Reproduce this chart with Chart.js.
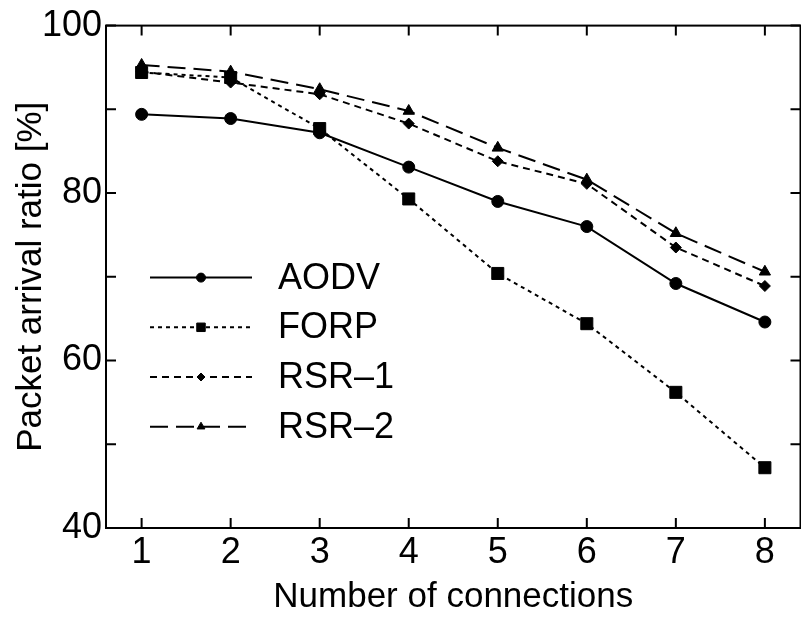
<!DOCTYPE html>
<html>
<head>
<meta charset="utf-8">
<script src="https://cdn.jsdelivr.net/npm/chart.js@4"></script>
<style>
  html, body { margin: 0; padding: 0; background: #fff; overflow: hidden; }
  #wrap { width: 801px; height: 617px; overflow: hidden; }
  canvas { display: block; }
</style>
</head>
<body>
<div id="wrap"><canvas id="chart" width="810" height="617"></canvas></div>
<script>
// data
const connections = [1, 2, 3, 4, 5, 6, 7, 8];
const aodv = [89.4, 88.9, 87.2, 83.1, 79.0, 76.0, 69.2, 64.6];
const forp = [94.4, 93.8, 87.7, 79.3, 70.4, 64.4, 56.2, 47.2];
const rsr1 = [94.5, 93.2, 91.8, 88.3, 83.8, 81.1, 73.5, 68.9];
const rsr2 = [95.3, 94.5, 92.4, 89.8, 85.4, 81.6, 75.2, 70.6];
const seriesNames = ['AODV', 'FORP', 'RSR\u20131', 'RSR\u20132'];
const yTicks = [40, 60, 80, 100];
const yMinor = [50, 70, 90];

const FONT = "'Liberation Sans', Arial, sans-serif";
const TICK = 10;

const pts = vals => vals.map((v, i) => ({ x: connections[i], y: v }));

function series(label, vals, style, radius, dash, legendRadius) {
    return {
        label: label,
        data: pts(vals),
        borderColor: '#000',
        backgroundColor: '#000',
        borderWidth: 2,
        borderDash: dash,
        pointStyle: style,
        pointRadius: radius,
        pointBorderWidth: 1,
        pointBackgroundColor: '#000',
        pointBorderColor: '#000',
        legendRadius: legendRadius,
        tension: 0
    };
}

// frame with inward ticks on all four sides
const framePlugin = {
    id: 'frame',
    afterDraw(chart) {
        const { ctx, chartArea: a, scales: { x, y } } = chart;
        ctx.save();
        ctx.strokeStyle = '#000';
        ctx.lineWidth = 2;
        ctx.strokeRect(a.left, a.top, a.right - a.left, a.bottom - a.top);
        ctx.beginPath();
        connections.forEach(v => {
            const px = x.getPixelForValue(v);
            ctx.moveTo(px, a.bottom); ctx.lineTo(px, a.bottom - TICK);
            ctx.moveTo(px, a.top); ctx.lineTo(px, a.top + TICK);
        });
        yTicks.concat(yMinor).forEach(v => {
            const py = y.getPixelForValue(v);
            ctx.moveTo(a.left, py); ctx.lineTo(a.left + TICK, py);
            ctx.moveTo(a.right, py); ctx.lineTo(a.right - TICK, py);
        });
        ctx.stroke();
        ctx.restore();
    }
};

// gnuplot-style legend: line sample with marker in the middle, then label
const legendPlugin = {
    id: 'lineLegend',
    afterDraw(chart) {
        const { ctx, chartArea: a } = chart;
        chart.data.datasets.forEach((ds, i) => {
            const yy = a.top + 252 + i * 49.7;
            const x0 = a.left + 44, x1 = a.left + 146, xm = (x0 + x1) / 2;
            ctx.save();
            ctx.strokeStyle = '#000';
            ctx.fillStyle = '#000';
            ctx.lineWidth = 2;
            ctx.setLineDash(ds.borderDash || []);
            ctx.beginPath();
            ctx.moveTo(x0, yy); ctx.lineTo(x1, yy);
            ctx.stroke();
            ctx.setLineDash([]);
            ctx.lineWidth = 1;
            Chart.helpers.drawPoint(ctx, { pointStyle: ds.pointStyle, radius: ds.legendRadius, rotation: 0, borderWidth: 1 }, xm, yy);
            ctx.font = '36px ' + FONT;
            ctx.textBaseline = 'middle';
            ctx.textAlign = 'left';
            ctx.fillText(ds.label, a.left + 172, yy + 1);
            ctx.restore();
        });
    }
};

new Chart(document.getElementById('chart'), {
    type: 'line',
    data: {
        datasets: [
            series(seriesNames[0], aodv, 'circle', 6, [], 4.5),
            series(seriesNames[1], forp, 'rect', 8.5, [4, 4], 6),
            series(seriesNames[2], rsr1, 'rectRot', 5.5, [7, 5], 4),
            series(seriesNames[3], rsr2, 'triangle', 6.5, [18, 8], 4.5)
        ]
    },
    options: {
        responsive: false,
        animation: false,
        layout: { padding: { top: 25, right: 1, left: 0, bottom: 0 } },
        plugins: { legend: { display: false }, tooltip: { enabled: false } },
        scales: {
            x: {
                type: 'linear',
                min: 0.6,
                max: 8.4,
                afterBuildTicks: s => { s.ticks = connections.map(v => ({ value: v })); },
                afterFit: s => { s.height = 89; },
                grid: { display: false, drawTicks: false },
                border: { display: false },
                ticks: { color: '#000', font: { family: FONT, size: 36, lineHeight: 1 }, padding: 7, maxRotation: 0 },
                title: {
                    display: true,
                    text: 'Number of connections',
                    color: '#000',
                    font: { family: FONT, size: 35, lineHeight: 1 },
                    padding: { top: 0, bottom: 2 }
                }
            },
            y: {
                min: 40,
                max: 100,
                afterBuildTicks: s => { s.ticks = yTicks.map(v => ({ value: v })); },
                afterFit: s => { s.width = 106; },
                grid: { display: false, drawTicks: false },
                border: { display: false },
                ticks: { color: '#000', font: { family: FONT, size: 36 }, padding: 4 },
                title: {
                    display: true,
                    text: 'Packet arrival ratio [%]',
                    color: '#000',
                    font: { family: FONT, size: 35, lineHeight: 1 },
                    padding: { top: 14, bottom: 0 }
                }
            }
        }
    },
    plugins: [framePlugin, legendPlugin]
});
</script>
</body>
</html>
